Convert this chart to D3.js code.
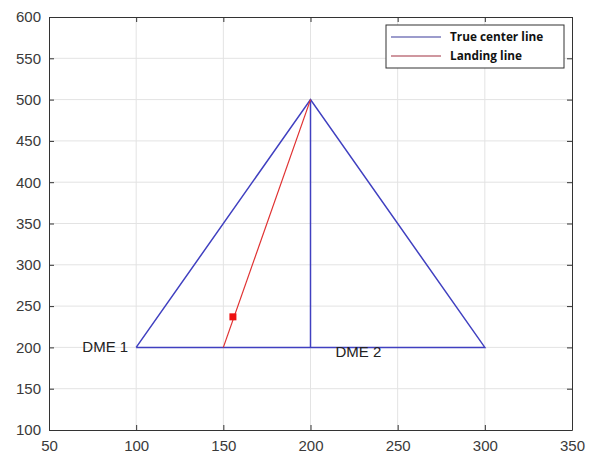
<!DOCTYPE html>
<html>
<head>
<meta charset="utf-8">
<script src="https://cdn.jsdelivr.net/npm/d3@7"></script>
<style>
  body { margin: 0; background: #fff; }
  .axis text { font-family: "Liberation Sans", Arial, sans-serif; font-size: 15px; fill: #3a3a3a; }
  .axis path, .axis line { stroke: #333; }
</style>
</head>
<body>
<div id="chart"></div>
<script>
var margin = {top: 17, right: 21, bottom: 25, left: 49},
    width = 593 - margin.left - margin.right,
    height = 455 - margin.top - margin.bottom;

var xTicks = [50, 100, 150, 200, 250, 300, 350],
    yTicks = [100, 150, 200, 250, 300, 350, 400, 450, 500, 550, 600];

// triangle between the two DME stations and the apex
var centerX = [100, 200, 300, 100],
    centerY = [200, 500, 200, 200];
// true center line
var axisX = [200, 200],
    axisY = [200, 500];
// landing line
var landX = [150, 200],
    landY = [200, 500];
// marker point
var pointX = [155.5],
    pointY = [237];

var labels = ['DME 1', 'DME 2'];

var svg = d3.select('#chart').append('svg')
    .attr('width', width + margin.left + margin.right)
    .attr('height', height + margin.top + margin.bottom);

var wrapper = svg.append('g')
    .attr('transform', 'translate(' + margin.left + ',' + margin.top + ')');

var xScale = d3.scaleLinear().domain([50, 350]).range([0, width]),
    yScale = d3.scaleLinear().domain([100, 600]).range([height, 0]);

// Grid
wrapper.append('g').selectAll('line')
    .data(xTicks.slice(1, -1))
  .enter().append('line')
    .attr('x1', function(d) { return xScale(d); })
    .attr('x2', function(d) { return xScale(d); })
    .attr('y1', 0).attr('y2', height)
    .style('stroke', '#e3e3e3');

wrapper.append('g').selectAll('line')
    .data(yTicks.slice(1, -1))
  .enter().append('line')
    .attr('y1', function(d) { return yScale(d); })
    .attr('y2', function(d) { return yScale(d); })
    .attr('x1', 0).attr('x2', width)
    .style('stroke', '#e3e3e3');

// Axes with inward ticks, mirrored on top and right
wrapper.append('g')
    .attr('class', 'axis')
    .attr('transform', 'translate(0,' + height + ')')
    .call(d3.axisBottom(xScale).tickValues(xTicks).tickSizeInner(-5).tickSizeOuter(0).tickPadding(10));

wrapper.append('g')
    .attr('class', 'axis')
    .call(d3.axisLeft(yScale).tickValues(yTicks).tickSizeInner(-5).tickSizeOuter(0).tickPadding(8));

wrapper.append('g')
    .attr('class', 'axis')
    .call(d3.axisTop(xScale).tickValues(xTicks).tickSizeInner(-5).tickSizeOuter(0).tickFormat(''));

wrapper.append('g')
    .attr('class', 'axis')
    .attr('transform', 'translate(' + width + ',0)')
    .call(d3.axisRight(yScale).tickValues(yTicks).tickSizeInner(-5).tickSizeOuter(0).tickFormat(''));

var line = d3.line()
    .x(function(d) { return xScale(d[0]); })
    .y(function(d) { return yScale(d[1]); });

wrapper.append('path')
    .datum(d3.zip(centerX, centerY))
    .attr('d', line)
    .style('fill', 'none')
    .style('stroke', '#4040c0')
    .style('stroke-width', 1.5);

wrapper.append('path')
    .datum(d3.zip(axisX, axisY))
    .attr('d', line)
    .style('fill', 'none')
    .style('stroke', '#4040c0')
    .style('stroke-width', 1.5);

wrapper.append('path')
    .datum(d3.zip(landX, landY))
    .attr('d', line)
    .style('fill', 'none')
    .style('stroke', '#e03030')
    .style('stroke-width', 1.2);

wrapper.selectAll('.marker')
    .data(d3.zip(pointX, pointY))
  .enter().append('rect')
    .attr('class', 'marker')
    .attr('x', function(d) { return xScale(d[0]) - 3.5; })
    .attr('y', function(d) { return yScale(d[1]) - 3.5; })
    .attr('width', 7).attr('height', 7)
    .style('fill', '#ee1111');

// DME labels
wrapper.append('text')
    .attr('x', xScale(100) - 8)
    .attr('y', yScale(200) + 5)
    .style('text-anchor', 'end')
    .style('font-family', '"Liberation Sans", Arial, sans-serif')
    .style('font-size', '15px')
    .style('fill', '#222')
    .text(labels[0]);

wrapper.append('text')
    .attr('x', xScale(200) + 25)
    .attr('y', yScale(200) + 10)
    .style('font-family', '"Liberation Sans", Arial, sans-serif')
    .style('font-size', '15px')
    .style('fill', '#222')
    .text(labels[1]);

// Legend
var legendItems = [
  {name: 'True center line', colour: '#3a3a9a'},
  {name: 'Landing line', colour: '#a03040'}
];

var legend = svg.append('g')
    .attr('transform', 'translate(386,25)');

legend.append('rect')
    .attr('width', 178).attr('height', 43)
    .style('fill', '#fff')
    .style('stroke', '#333');

var item = legend.selectAll('.legend')
    .data(legendItems)
  .enter().append('g')
    .attr('class', 'legend')
    .attr('transform', function(d, i) { return 'translate(0,' + (12 + i * 19) + ')'; });

item.append('line')
    .attr('x1', 5).attr('x2', 55)
    .style('stroke', function(d) { return d.colour; })
    .style('stroke-width', 1.2);

item.append('text')
    .attr('x', 64)
    .attr('dy', '.35em')
    .style('font-family', '"Open Sans", "Liberation Sans", sans-serif')
    .style('font-weight', 'bold')
    .style('font-size', '11.8px')
    .style('fill', '#111')
    .text(function(d) { return d.name; });
</script>
</body>
</html>
